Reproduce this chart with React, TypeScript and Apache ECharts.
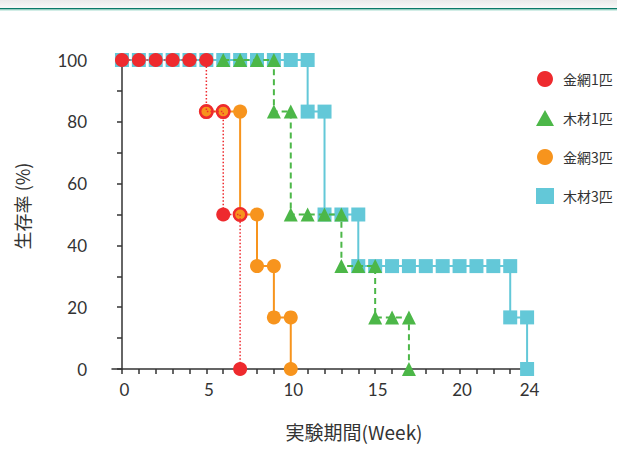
import { useEffect, useRef } from "react";
import * as echarts from "echarts";

type Pt = [number, number];

const weekTicks = [0, 1, 2, 3, 4, 5, 6, 7, 8, 9, 10, 11, 12, 13, 14, 15, 16, 17, 18, 19, 20, 21, 22, 23, 24];
const weekLabels = [0, 5, 10, 15, 20, 24];
const legendNames = ["金網1匹", "木材1匹", "金網3匹", "木材3匹"];

// 金網1匹 (red, dotted)
const wire1: Pt[] = [
  [0, 100], [1, 100], [2, 100], [3, 100], [4, 100], [5, 100],
  [5, 83.3], [6, 83.3], [6, 50], [7, 50], [7, 0],
];
// 木材1匹 (green, dashed)
const wood1: Pt[] = [
  [6, 100], [7, 100], [8, 100], [9, 100], [9, 83.3], [10, 83.3],
  [10, 50], [11, 50], [12, 50], [13, 50], [13, 33.3], [14, 33.3], [15, 33.3],
  [15, 16.7], [16, 16.7], [17, 16.7], [17, 0],
];
// 金網3匹 (orange, solid)
const wire3: Pt[] = [
  [5, 83.3], [6, 83.3], [7, 83.3], [7, 50], [8, 50], [8, 33.3], [9, 33.3],
  [9, 16.7], [10, 16.7], [10, 0],
];
// 木材3匹 (teal, solid)
const wood3: Pt[] = [
  [0, 100], [1, 100], [2, 100], [3, 100], [4, 100], [5, 100], [6, 100], [7, 100],
  [8, 100], [9, 100], [10, 100], [11, 100], [11, 83.3], [12, 83.3], [12, 50],
  [13, 50], [14, 50], [14, 33.3], [15, 33.3], [16, 33.3], [17, 33.3], [18, 33.3],
  [19, 33.3], [20, 33.3], [21, 33.3], [22, 33.3], [23, 33.3], [23, 16.7], [24, 16.7], [24, 0],
];

const RED = "#EE2A2E";
const GREEN = "#4CB748";
const ORANGE = "#F7941D";
const TEAL = "#63C8D8";
const AXIS = "#333333";
const NUM_FONT = "Lato, 'Noto Sans', sans-serif";
const CJK_FONT = "'Noto Sans CJK JP', 'Noto Sans', sans-serif";

const RING =
  "path://M10,0A10,10,0,1,1,-10,0A10,10,0,1,1,10,0ZM6.6,0A6.6,6.6,0,1,0,-6.6,0A6.6,6.6,0,1,0,6.6,0Z";

export default function App() {
  const ref = useRef<HTMLDivElement>(null);

  useEffect(() => {
    if (!ref.current) return;
    const chart = echarts.init(ref.current, undefined, { renderer: "svg" });
    const sharedWithOrange = (v: Pt) =>
      v[1] < 100 && wire3.some((p) => p[0] === v[0] && p[1] === v[1]);

    chart.setOption({
      animation: false,
      backgroundColor: "#ffffff",
      grid: { left: 112, right: 84, top: 60, bottom: 106, containLabel: false },
      legend: {
        orient: "vertical",
        left: 531,
        top: 66,
        itemWidth: 18,
        itemHeight: 16,
        itemGap: 23,
        selectedMode: false,
        textStyle: { fontFamily: CJK_FONT, fontSize: 14, color: AXIS, padding: [0, 0, 0, 4] },
        data: [
          { name: legendNames[0], icon: "circle" },
          { name: legendNames[1], icon: "triangle" },
          { name: legendNames[2], icon: "circle" },
          { name: legendNames[3], icon: "rect" },
        ],
      },
      xAxis: {
        type: "value",
        min: -0.59,
        max: 24.35,
        splitLine: { show: false },
        axisLine: { show: true, onZero: false, lineStyle: { color: AXIS, width: 1.5 } },
        axisTick: {
          show: true,
          length: 5,
          inside: false,
          customValues: weekTicks,
          lineStyle: { color: AXIS, width: 1.5 },
        },
        axisLabel: {
          customValues: weekLabels,
          margin: 12,
          fontFamily: NUM_FONT,
          fontSize: 17,
          color: AXIS,
          padding: [0, 0, 0, 5],
        },
      },
      yAxis: {
        type: "value",
        min: 0,
        max: 100,
        interval: 10,
        splitLine: { show: false },
        axisLine: { show: true, lineStyle: { color: AXIS, width: 1.5 } },
        axisTick: { show: true, length: 5, inside: false, lineStyle: { color: AXIS, width: 1.5 } },
        axisLabel: {
          margin: 25,
          fontFamily: NUM_FONT,
          fontSize: 17,
          color: AXIS,
          formatter: (v: number) => (v % 20 === 0 ? String(v) : ""),
        },
      },
      series: [
        {
          name: legendNames[3],
          type: "line",
          data: wood3,
          clip: false,
          symbol: "rect",
          symbolSize: 14,
          itemStyle: { color: TEAL },
          lineStyle: { color: TEAL, width: 2 },
          z: 2,
        },
        {
          name: legendNames[1],
          type: "line",
          data: wood1,
          clip: false,
          symbol: "triangle",
          symbolSize: 14,
          itemStyle: { color: GREEN },
          lineStyle: { color: GREEN, width: 2, type: [6, 4] },
          z: 3,
        },
        {
          name: legendNames[2],
          type: "line",
          data: wire3,
          clip: false,
          symbol: "circle",
          symbolSize: 14,
          itemStyle: { color: ORANGE },
          lineStyle: { color: ORANGE, width: 2 },
          z: 4,
        },
        {
          name: legendNames[0],
          type: "line",
          data: wire1,
          clip: false,
          symbol: (v: Pt) => (sharedWithOrange(v) ? RING : "circle"),
          symbolSize: (v: Pt) => (sharedWithOrange(v) ? 15 : 14),
          itemStyle: { color: RED },
          lineStyle: { color: RED, width: 1.5, type: [1.5, 2] },
          z: 5,
        },
      ],
      graphic: [
        {
          type: "rect",
          shape: { x: 0, y: 0, width: 617, height: 8 },
          style: {
            fill: new echarts.graphic.LinearGradient(0, 0, 0, 1, [
              { offset: 0, color: "#e9e9e9" },
              { offset: 1, color: "#f8f8f8" },
            ]),
          },
          silent: true,
        },
        { type: "rect", shape: { x: 0, y: 8, width: 617, height: 1.4 }, style: { fill: "#0a7a68" }, silent: true },
        { type: "rect", shape: { x: 0, y: 9.4, width: 617, height: 1.2 }, style: { fill: "#a6dccd" }, silent: true },
        {
          type: "text",
          x: 22,
          y: 206,
          rotation: Math.PI / 2,
          style: {
            text: "生存率 (%)",
            fontFamily: CJK_FONT,
            fontSize: 18,
            fill: AXIS,
            align: "center",
            verticalAlign: "middle",
          },
          silent: true,
        },
        {
          type: "text",
          x: 354,
          y: 431,
          style: {
            text: "実験期間(Week)",
            fontFamily: CJK_FONT,
            fontSize: 19,
            fill: AXIS,
            align: "center",
            verticalAlign: "middle",
          },
          silent: true,
        },
      ],
    });
    return () => chart.dispose();
  }, []);

  return (
    <div
      ref={ref}
      style={{ position: "absolute", left: 0, top: 0, width: 617, height: 475, background: "#fff" }}
    />
  );
}
